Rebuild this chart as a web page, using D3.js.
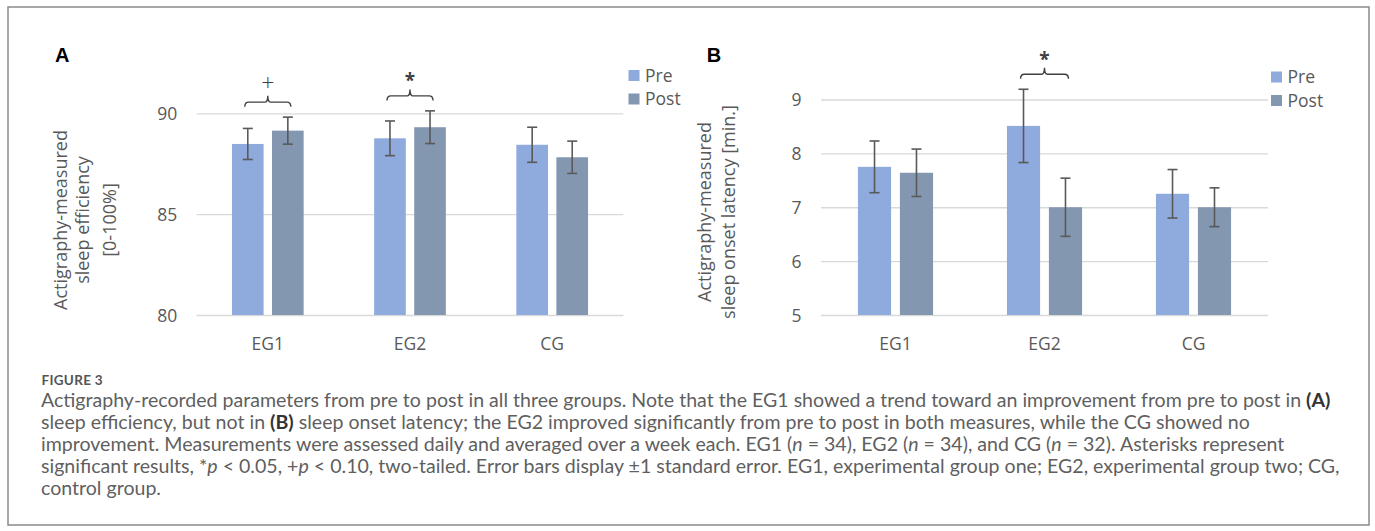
<!DOCTYPE html>
<html>
<head>
<meta charset="utf-8">
<script src="https://cdn.jsdelivr.net/npm/d3@7/dist/d3.min.js"></script>
<style>
  html, body { margin: 0; padding: 0; background: #fff; }
  svg { display: block; }
</style>
</head>
<body>
<svg id="chart" width="1375" height="531"></svg>
<script>
// ---------------- DATA ----------------
const groups = ["EG1", "EG2", "CG"];
const seriesNames = ["Pre", "Post"];

// Panel A: sleep efficiency [0-100%]
const effPre    = [88.48, 88.76, 88.44];
const effPost   = [89.14, 89.31, 87.82];
const effPreSE  = [0.77, 0.86, 0.87];
const effPostSE = [0.67, 0.81, 0.80];
const effTicks  = [80, 85, 90];
const effSig    = [{ group: "EG1", mark: "+" }, { group: "EG2", mark: "*" }];

// Panel B: sleep onset latency [min.]
const latPre    = [7.75, 8.51, 7.25];
const latPost   = [7.64, 7.00, 7.00];
const latPreSE  = [0.48, 0.68, 0.45];
const latPostSE = [0.44, 0.54, 0.36];
const latTicks  = [5, 6, 7, 8, 9];
const latSig    = [{ group: "EG2", mark: "*" }];

const captionHead = "FIGURE 3";

// ---------------- STYLE ----------------
const colors = { Pre: "#8FAADC", Post: "#8497B0" };
const textGray = "#595959";
const gridGray = "#D9D9D9";
const chartFont = "'Open Sans', 'Noto Sans', sans-serif";

const svg = d3.select("#chart");

// outer frame
svg.append("rect")
  .attr("x", 8).attr("y", 7).attr("width", 1361).attr("height", 518)
  .attr("fill", "none").attr("stroke", "#8a8a8a").attr("stroke-width", 1.5);

function drawPanel(cfg) {
  const g = svg.append("g");
  const x0 = d3.scaleBand().domain(groups).range([cfg.x0, cfg.x1]).paddingInner(0).paddingOuter(0);
  const x1 = d3.scaleBand().domain(seriesNames).range([0, x0.bandwidth()])
    .paddingInner(0.21).paddingOuter(0.88);
  const y = d3.scaleLinear().domain(cfg.domain).range([315, cfg.yTop]);

  // gridlines + y tick labels
  const yAxis = d3.axisLeft(y).tickValues(cfg.ticks).tickSize(-(cfg.x1 - cfg.x0)).tickPadding(19.5)
    .tickFormat(d3.format("d"));
  const ya = g.append("g").attr("transform", `translate(${cfg.x0},0)`).call(yAxis);
  ya.select(".domain").remove();
  ya.selectAll(".tick line").attr("stroke", gridGray).attr("stroke-width", 1.3);
  ya.selectAll(".tick text").attr("fill", textGray).attr("font-family", chartFont)
    .attr("font-size", 17.5).attr("dy", "0.36em");

  // x axis labels
  const xAxis = d3.axisBottom(x0).tickSize(0).tickPadding(22.5);
  const xa = g.append("g").attr("transform", `translate(0,315)`).call(xAxis);
  xa.select(".domain").remove();
  xa.selectAll(".tick text").attr("fill", textGray).attr("font-family", chartFont).attr("font-size", 17.5);

  const rows = groups.map((grp, i) => ({
    group: grp,
    vals: [
      { s: "Pre", v: cfg.pre[i], se: cfg.preSE[i] },
      { s: "Post", v: cfg.post[i], se: cfg.postSE[i] }
    ]
  }));

  const gg = g.selectAll(".grp").data(rows).join("g")
    .attr("transform", d => `translate(${x0(d.group)},0)`);

  gg.selectAll("rect").data(d => d.vals).join("rect")
    .attr("x", d => x1(d.s)).attr("width", x1.bandwidth())
    .attr("y", d => y(d.v)).attr("height", d => y(cfg.domain[0]) - y(d.v))
    .attr("fill", d => colors[d.s]);

  const cap = 5;
  const eb = gg.selectAll(".eb").data(d => d.vals).join("g").attr("class", "eb")
    .attr("stroke", "#595959").attr("stroke-width", 1.6).attr("fill", "none");
  eb.append("line")
    .attr("x1", d => x1(d.s) + x1.bandwidth() / 2).attr("x2", d => x1(d.s) + x1.bandwidth() / 2)
    .attr("y1", d => y(d.v + d.se)).attr("y2", d => y(d.v - d.se));
  eb.append("line")
    .attr("x1", d => x1(d.s) + x1.bandwidth() / 2 - cap).attr("x2", d => x1(d.s) + x1.bandwidth() / 2 + cap)
    .attr("y1", d => y(d.v + d.se)).attr("y2", d => y(d.v + d.se));
  eb.append("line")
    .attr("x1", d => x1(d.s) + x1.bandwidth() / 2 - cap).attr("x2", d => x1(d.s) + x1.bandwidth() / 2 + cap)
    .attr("y1", d => y(d.v - d.se)).attr("y2", d => y(d.v - d.se));

  // significance brackets
  cfg.sig.forEach(sg => {
    const i = groups.indexOf(sg.group);
    const xa0 = x0(sg.group) + x1("Pre") + x1.bandwidth() / 2 - 3;
    const xa1 = x0(sg.group) + x1("Post") + x1.bandwidth() / 2 + 3;
    const xc = (xa0 + xa1) / 2;
    const topErr = Math.min(y(cfg.pre[i] + cfg.preSE[i]), y(cfg.post[i] + cfg.postSE[i]));
    const yEnd = topErr - 10.5, yH = yEnd - 4.5, yTip = yH - 6.5;
    const p = d3.path();
    p.moveTo(xa0, yEnd);
    p.quadraticCurveTo(xa0, yH, xa0 + 4, yH);
    p.lineTo(xc - 3, yH);
    p.quadraticCurveTo(xc, yH, xc, yTip);
    p.quadraticCurveTo(xc, yH, xc + 3, yH);
    p.lineTo(xa1 - 4, yH);
    p.quadraticCurveTo(xa1, yH, xa1, yEnd);
    g.append("path").attr("d", p.toString()).attr("fill", "none")
      .attr("stroke", "#404040").attr("stroke-width", 1.4);
    const cy = yH - 19.5;
    const isStar = sg.mark === "*";
    g.append("text").attr("x", xc).attr("y", isStar ? cy + 11 : cy + 8)
      .attr("text-anchor", "middle").attr("font-family", chartFont)
      .attr("font-size", isStar ? 19 : 23).attr("font-weight", isStar ? 700 : 300)
      .attr("fill", "#404040").text(sg.mark);
  });

  // legend
  const lg = g.append("g");
  seriesNames.forEach((s, k) => {
    lg.append("rect").attr("x", cfg.legX).attr("y", cfg.legY + k * 23.5)
      .attr("width", 11).attr("height", 11).attr("fill", colors[s]);
    lg.append("text").attr("x", cfg.legX + 16.5).attr("y", cfg.legY + 11.5 + k * 23.5)
      .attr("font-family", chartFont).attr("font-size", 17.5).attr("fill", textGray).text(s);
  });

  // y title
  const tt = g.append("text").attr("transform", `translate(0,${cfg.titleY}) rotate(-90)`)
    .attr("text-anchor", "middle").attr("font-family", chartFont).attr("font-size", 18).attr("fill", textGray);
  cfg.title.forEach((ln, k) => {
    tt.append("tspan").attr("x", 0).attr("y", cfg.titleX[k]).text(ln);
  });

  // panel letter
  g.append("text").attr("x", cfg.letterX).attr("y", 62)
    .attr("font-family", "'Liberation Sans', Arial, sans-serif").attr("font-weight", 700)
    .attr("font-size", 20).attr("fill", "#000").text(cfg.letter);
}

drawPanel({
  x0: 196.7, x1: 623.3, domain: [80, 90], yTop: 113.3, ticks: effTicks,
  pre: effPre, post: effPost, preSE: effPreSE, postSE: effPostSE, sig: effSig,
  legX: 628.5, legY: 70,
  title: ["Actigraphy-measured", "sleep efficiency", "[0-100%]"], titleX: [67, 89, 116], titleY: 220,
  letter: "A", letterX: 55
});

drawPanel({
  x0: 821, x1: 1268, domain: [5, 9], yTop: 99.5, ticks: latTicks,
  pre: latPre, post: latPost, preSE: latPreSE, postSE: latPostSE, sig: latSig,
  legX: 1271, legY: 71.5,
  title: ["Actigraphy-measured", "sleep onset latency [min.]"], titleX: [711, 735], titleY: 212,
  letter: "B", letterX: 706.7
});

// ---------------- CAPTION ----------------
const capFont = "Lato, 'Open Sans', sans-serif";
svg.append("text").attr("x", 41.5).attr("y", 385)
  .attr("font-family", capFont).attr("font-weight", 700).attr("font-size", 13.5)
  .attr("fill", "#555").attr("letter-spacing", 0.3).text(captionHead);

const captionLines = [
  [["Actigraphy-recorded parameters from pre to post in all three groups. Note that the EG1 showed a trend toward an improvement from pre to post in ", ""], ["(A)", "b"]],
  [["sleep efficiency, but not in ", ""], ["(B)", "b"], [" sleep onset latency; the EG2 improved significantly from pre to post in both measures, while the CG showed no", ""]],
  [["improvement. Measurements were assessed daily and averaged over a week each. EG1 (", ""], ["n", "i"], [" = 34), EG2 (", ""], ["n", "i"], [" = 34), and CG (", ""], ["n", "i"], [" = 32). Asterisks represent", ""]],
  [["significant results, *", ""], ["p", "i"], [" < 0.05, +", ""], ["p", "i"], [" < 0.10, two-tailed. Error bars display \u00B11 standard error. EG1, experimental group one; EG2, experimental group two; CG,", ""]],
  [["control group.", ""]]
];
const capBase = [406.7, 428.7, 450.7, 472.7, 494.7];
const capTargets = [1279, 1203, 1240, 1320];
const capNodes = captionLines.map((parts, k) => {
  const t = svg.append("text").attr("x", 41).attr("y", capBase[k])
    .attr("font-family", capFont).attr("font-size", 15).attr("fill", "#5f5f5f");
  parts.forEach(([txt, st]) => {
    const ts = t.append("tspan").text(txt);
    if (st === "b") ts.attr("font-weight", 700).attr("fill", "#333");
    if (st === "i") ts.attr("font-style", "italic");
  });
  return t;
});
// fit caption font size so the lines span as in the figure
let measured = 0;
for (let k = 0; k < 4; k++) measured += capNodes[k].node().getComputedTextLength();
const fs = 15 * (d3.sum(capTargets) / measured);
capNodes.forEach(t => t.attr("font-size", fs));
</script>
</body>
</html>
